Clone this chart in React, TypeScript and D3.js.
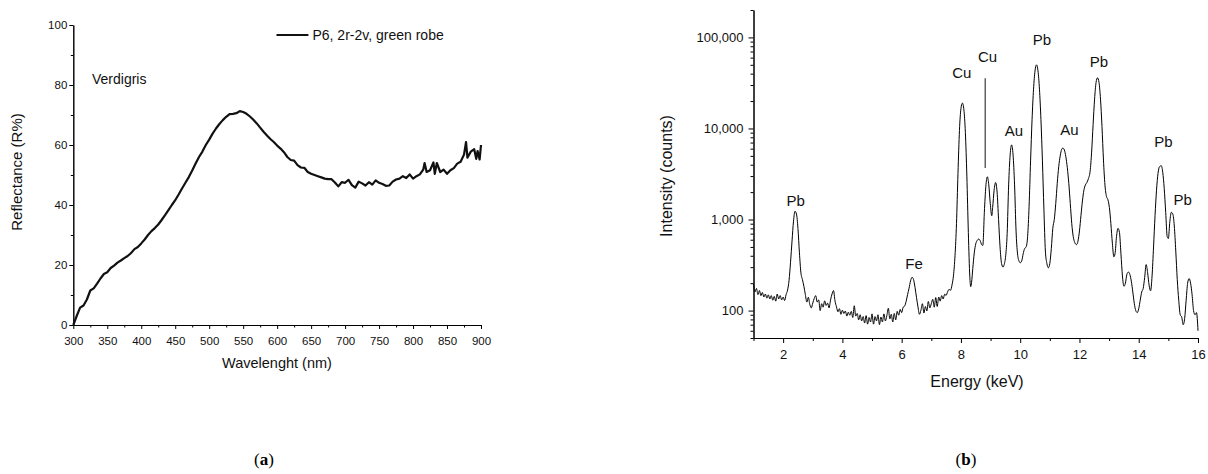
import React, { useEffect, useRef } from 'react';
import * as d3 from 'd3';

// (a) reflectance spectrum
const wavelengthNm = [
  300, 305, 310, 315, 320, 325, 330, 335, 340, 345, 350, 355, 360, 365, 370, 375, 380, 385, 390, 395,
  400, 405, 410, 415, 420, 425, 430, 435, 440, 445, 450, 455, 460, 465, 470, 475, 480, 485, 490, 495,
  500, 505, 510, 515, 520, 525, 530, 535, 540, 545, 550, 555, 560, 565, 570, 575, 580, 585, 590, 595,
  600, 605, 610, 615, 620, 625, 630, 635, 640, 645, 650, 655, 660, 665, 670, 675, 680, 685, 690, 695,
  700, 705, 710, 715, 720, 725, 730, 735, 740, 745, 750, 755, 760, 765, 770, 775, 780, 785, 790, 795,
  800, 805, 810, 815, 817, 820, 825, 830, 832, 835, 840, 845, 850, 855, 860, 865, 870, 875, 878, 880,
  885, 890, 893, 895, 898, 900,
];
const reflectance = [
  0, 3.0, 5.8, 6.5, 8.5, 11.5, 12.2, 13.8, 15.5, 17.0, 17.6, 19.0, 19.8, 20.8, 21.5, 22.3, 23.0, 24.0, 25.3, 26.0,
  27.2, 28.5, 30.0, 31.3, 32.3, 33.5, 35.0, 36.6, 38.3, 40.0, 41.6, 43.5, 45.5, 47.4, 49.3, 51.5, 53.8, 56.0, 57.8, 60.0,
  61.8, 63.8, 65.5, 67.0, 68.3, 69.4, 70.3, 70.4, 70.6, 71.3, 71.0, 70.4, 69.5, 68.4, 67.2, 65.8, 64.4, 63.2, 62.0, 61.0,
  59.8, 58.8, 57.6, 56.0, 55.0, 54.8, 53.3, 52.5, 52.4, 51.0, 50.4, 50.0, 49.6, 49.2, 48.8, 48.6, 48.6, 47.5, 46.2, 47.6,
  47.4, 48.4, 46.6, 45.8, 47.8, 47.2, 46.5, 47.6, 46.8, 48.2, 47.4, 47.0, 46.4, 46.5, 47.8, 48.5, 48.8, 49.6, 49.0, 50.2,
  48.8, 49.6, 50.2, 51.8, 54.0, 51.0, 51.6, 54.2, 50.4, 54.0, 51.0, 51.8, 50.4, 51.6, 52.3, 53.8, 54.4, 56.8, 61.0, 55.8,
  57.8, 58.6, 55.4, 58.0, 55.2, 60.0,
];
const reflTicksX = [300, 350, 400, 450, 500, 550, 600, 650, 700, 750, 800, 850, 900];
const reflTicksY = [0, 20, 40, 60, 80, 100];

// (b) XRF spectrum: [energy keV, counts]
const spectrum: [number, number][] = [
  [1.0, 195], [1.05, 160], [1.1, 175], [1.15, 150], [1.2, 166], [1.25, 146], [1.3, 158], [1.35, 141], [1.4, 152], [1.45, 137],
  [1.5, 149], [1.55, 134], [1.6, 146], [1.65, 130], [1.7, 143], [1.75, 127], [1.8, 152], [1.85, 134], [1.9, 146], [1.95, 131],
  [2.0, 141], [2.05, 129], [2.1, 150], [2.15, 168], [2.2, 215], [2.25, 340], [2.3, 580], [2.35, 960], [2.4, 1230], [2.45, 1150],
  [2.5, 800], [2.55, 430], [2.6, 260], [2.65, 220], [2.7, 185], [2.75, 150], [2.8, 124], [2.85, 140], [2.9, 117], [2.95, 107],
  [3.0, 121], [3.05, 136], [3.1, 146], [3.15, 124], [3.2, 131], [3.25, 100], [3.3, 119], [3.35, 109], [3.4, 128], [3.45, 114],
  [3.5, 121], [3.55, 107], [3.6, 131], [3.65, 152], [3.7, 166], [3.75, 128], [3.8, 110], [3.85, 97], [3.9, 105], [3.95, 91],
  [4.0, 101], [4.05, 93], [4.1, 99], [4.15, 87], [4.2, 96], [4.25, 89], [4.3, 98], [4.35, 84], [4.4, 113], [4.45, 87],
  [4.5, 93], [4.55, 79], [4.6, 90], [4.65, 77], [4.7, 86], [4.75, 73], [4.8, 88], [4.85, 71], [4.9, 84], [4.95, 75],
  [5.0, 92], [5.05, 71], [5.1, 86], [5.15, 77], [5.2, 90], [5.25, 70], [5.3, 85], [5.35, 75], [5.4, 92], [5.45, 77],
  [5.5, 88], [5.55, 106], [5.6, 81], [5.65, 91], [5.7, 75], [5.75, 93], [5.8, 79], [5.85, 98], [5.9, 89], [5.95, 103],
  [6.0, 95], [6.05, 109], [6.1, 112], [6.15, 126], [6.2, 150], [6.25, 176], [6.3, 212], [6.35, 232], [6.4, 220], [6.45, 180],
  [6.5, 140], [6.55, 110], [6.6, 91], [6.65, 101], [6.7, 119], [6.75, 94], [6.8, 111], [6.85, 99], [6.9, 126], [6.95, 107],
  [7.0, 119], [7.05, 133], [7.1, 109], [7.15, 139], [7.2, 111], [7.25, 141], [7.3, 127], [7.35, 146], [7.4, 134], [7.45, 151],
  [7.5, 147], [7.55, 161], [7.6, 171], [7.65, 167], [7.7, 192], [7.75, 245], [7.8, 400], [7.85, 900], [7.9, 3200], [7.95, 9500],
  [8.0, 16500], [8.05, 19000], [8.1, 16000], [8.15, 9000], [8.2, 3000], [8.25, 720], [8.3, 235], [8.33, 183], [8.36, 205], [8.4, 290],
  [8.45, 430], [8.5, 540], [8.55, 590], [8.6, 610], [8.65, 585], [8.7, 530], [8.74, 520], [8.79, 1200], [8.84, 2300], [8.89, 2950],
  [8.94, 2400], [8.99, 1500], [9.04, 1100], [9.07, 1350], [9.12, 2100], [9.17, 2550], [9.22, 2000], [9.27, 1000], [9.32, 500], [9.37, 330],
  [9.42, 300], [9.46, 320], [9.51, 400], [9.56, 700], [9.61, 2400], [9.66, 5100], [9.71, 6600], [9.76, 5100], [9.81, 2400], [9.86, 750],
  [9.91, 420], [9.96, 350], [10.0, 335], [10.05, 350], [10.1, 420], [10.15, 480], [10.2, 500], [10.25, 650], [10.3, 1400], [10.35, 4400],
  [10.4, 12500], [10.45, 27000], [10.5, 43000], [10.55, 50000], [10.6, 43000], [10.65, 27000], [10.7, 12500], [10.75, 4400], [10.8, 1300], [10.85, 450],
  [10.9, 330], [10.95, 295], [11.0, 330], [11.05, 480], [11.1, 800], [11.15, 1000], [11.2, 1500], [11.25, 2500], [11.3, 3800], [11.35, 5000],
  [11.4, 5900], [11.44, 6100], [11.49, 5800], [11.54, 4900], [11.59, 3700], [11.64, 2500], [11.69, 1500], [11.74, 900], [11.79, 650], [11.84, 560],
  [11.9, 530], [11.95, 580], [12.0, 750], [12.05, 1100], [12.1, 1600], [12.15, 2100], [12.2, 2400], [12.25, 2550], [12.3, 2800], [12.36, 3400],
  [12.41, 5500], [12.46, 11000], [12.51, 21000], [12.56, 32000], [12.61, 36000], [12.66, 32000], [12.71, 21000], [12.76, 10500], [12.81, 4500], [12.86, 2400],
  [12.91, 1800], [12.96, 1650], [13.01, 1350], [13.06, 900], [13.11, 550], [13.16, 390], [13.2, 420], [13.25, 650], [13.3, 800], [13.35, 720],
  [13.4, 420], [13.45, 240], [13.5, 185], [13.55, 200], [13.6, 250], [13.65, 265], [13.7, 250], [13.75, 210], [13.8, 160], [13.85, 120],
  [13.9, 100], [13.95, 95], [14.0, 105], [14.05, 130], [14.1, 160], [14.15, 175], [14.2, 230], [14.25, 320], [14.3, 260], [14.35, 190],
  [14.4, 165], [14.45, 240], [14.5, 500], [14.55, 1100], [14.6, 2100], [14.65, 3200], [14.7, 3800], [14.76, 3900], [14.81, 3300], [14.86, 2200],
  [14.91, 1200], [14.96, 650], [15.0, 620], [15.05, 950], [15.1, 1200], [15.15, 1150], [15.2, 850], [15.25, 450], [15.3, 220], [15.35, 130],
  [15.4, 90], [15.45, 85], [15.5, 70], [15.55, 82], [15.6, 130], [15.65, 200], [15.7, 225], [15.75, 200], [15.8, 150], [15.85, 100],
  [15.9, 90], [15.95, 95], [16.0, 60],
];
const energyTicks = [2, 4, 6, 8, 10, 12, 14, 16];
const countTicks = [100, 1000, 10000, 100000];

// element labels, anchored in data units (energy, counts)
const peakLabels = [
  { text: 'Pb', e: 2.42, c: 1610 },
  { text: 'Fe', e: 6.42, c: 327 },
  { text: 'Cu', e: 8.03, c: 41100 },
  { text: 'Cu', e: 8.9, c: 62100 },
  { text: 'Au', e: 9.79, c: 9440 },
  { text: 'Pb', e: 10.73, c: 94600 },
  { text: 'Au', e: 11.66, c: 9610 },
  { text: 'Pb', e: 12.66, c: 53800 },
  { text: 'Pb', e: 14.83, c: 7150 },
  { text: 'Pb', e: 15.48, c: 1640 },
];
const cuMarker = { e: 8.82, top: 35600, bottom: 3680 };

const SANS = '"Liberation Sans", Arial, Helvetica, sans-serif';

export default function App() {
  const svgRef = useRef<SVGSVGElement | null>(null);

  useEffect(() => {
    if (!svgRef.current) return;
    const svg = d3.select(svgRef.current);
    svg.selectAll('*').remove();

    const styleAxis = (g: any, size: number) => {
      g.select('.domain').attr('stroke', '#000').attr('stroke-width', 1);
      g.selectAll('.tick line').attr('stroke', '#000').attr('stroke-width', 1);
      g.selectAll('text').attr('fill', '#111').style('font-size', `${size}px`).style('font-family', SANS);
    };

    // ---------- (a) ----------
    const xA = d3.scaleLinear().domain([300, 900]).range([73.3, 481]);
    const yA = d3.scaleLinear().domain([0, 100]).range([325, 25]);
    const gA = svg.append('g');

    gA.append('g')
      .attr('transform', `translate(0,${yA(0)})`)
      .call(d3.axisBottom(xA).tickValues(d3.range(325, 900, 50)).tickSize(2.5).tickSizeOuter(0).tickFormat(() => ''))
      .call((g: any) => styleAxis(g, 11));
    gA.append('g')
      .attr('transform', `translate(0,${yA(0)})`)
      .call(d3.axisBottom(xA).tickValues(reflTicksX).tickSize(4).tickSizeOuter(0).tickPadding(7.5).tickFormat(d3.format('d')))
      .call((g: any) => styleAxis(g, 11.5));
    gA.append('g')
      .attr('transform', `translate(${xA(300)},0)`)
      .call(d3.axisLeft(yA).tickValues(d3.range(10, 100, 20)).tickSize(2.5).tickSizeOuter(0).tickFormat(() => ''))
      .call((g: any) => styleAxis(g, 11));
    gA.append('g')
      .attr('transform', `translate(${xA(300)},0)`)
      .call(d3.axisLeft(yA).tickValues(reflTicksY).tickSize(4).tickSizeOuter(0).tickPadding(2).tickFormat(d3.format('d')))
      .call((g: any) => styleAxis(g, 11.5));

    const reflLine = d3
      .line<number>()
      .x((_, i) => xA(wavelengthNm[i]))
      .y((d) => yA(d))
      .curve(d3.curveLinear);
    gA.append('path')
      .datum(reflectance)
      .attr('fill', 'none')
      .attr('stroke', '#111')
      .attr('stroke-width', 2.2)
      .attr('stroke-linejoin', 'round')
      .attr('d', reflLine);

    // legend + note
    gA.append('line')
      .attr('x1', xA(599)).attr('x2', xA(646))
      .attr('y1', yA(96.7)).attr('y2', yA(96.7))
      .attr('stroke', '#111').attr('stroke-width', 2);
    gA.append('text')
      .attr('x', xA(652)).attr('y', yA(96.7)).attr('dy', '0.35em')
      .style('font-family', SANS).style('font-size', '14px').attr('fill', '#111')
      .text('P6, 2r-2v, green robe');
    gA.append('text')
      .attr('x', xA(327.5)).attr('y', yA(82)).attr('dy', '0.35em')
      .style('font-family', SANS).style('font-size', '14px').attr('fill', '#111')
      .text('Verdigris');

    gA.append('text')
      .attr('x', 277).attr('y', 363).attr('dy', '0.35em').attr('text-anchor', 'middle')
      .style('font-family', SANS).style('font-size', '14.5px').attr('fill', '#111')
      .text('Wavelenght (nm)');
    gA.append('text')
      .attr('transform', 'translate(17,172) rotate(-90)')
      .attr('dy', '0.35em').attr('text-anchor', 'middle')
      .style('font-family', SANS).style('font-size', '15px').attr('fill', '#111')
      .text('Reflectance (R%)');

    // ---------- (b) ----------
    const xB = d3.scaleLinear().domain([1, 16]).range([753.5, 1198]);
    const yB = d3.scaleLog().domain([50, 200000]).range([338, 10]);
    const gB = svg.append('g');

    const minorCounts = yB.ticks().filter((v) => !countTicks.includes(v));
    gB.append('g')
      .attr('transform', `translate(0,${yB(50)})`)
      .call(d3.axisBottom(xB).tickValues(d3.range(1, 16, 2)).tickSize(3).tickSizeOuter(0).tickFormat(() => ''))
      .call((g: any) => styleAxis(g, 12));
    gB.append('g')
      .attr('transform', `translate(0,${yB(50)})`)
      .call(d3.axisBottom(xB).tickValues(energyTicks).tickSize(5).tickSizeOuter(0).tickPadding(7).tickFormat(d3.format('d')))
      .call((g: any) => styleAxis(g, 13));
    gB.append('g')
      .attr('transform', `translate(${xB(1)},0)`)
      .call(d3.axisLeft(yB).tickValues(minorCounts).tickSize(3).tickSizeOuter(0).tickFormat(() => ''))
      .call((g: any) => styleAxis(g, 12));
    gB.append('g')
      .attr('transform', `translate(${xB(1)},0)`)
      .call(d3.axisLeft(yB).tickValues(countTicks).tickSize(5).tickSizeOuter(0).tickPadding(5).tickFormat(d3.format(',')))
      .call((g: any) => styleAxis(g, 13));

    const specLine = d3
      .line<[number, number]>()
      .x((d) => xB(d[0]))
      .y((d) => yB(d[1]))
      .curve(d3.curveMonotoneX);
    gB.append('path')
      .datum(spectrum)
      .attr('fill', 'none')
      .attr('stroke', '#000')
      .attr('stroke-width', 1)
      .attr('d', specLine);

    gB.append('line')
      .attr('x1', xB(cuMarker.e)).attr('x2', xB(cuMarker.e))
      .attr('y1', yB(cuMarker.top)).attr('y2', yB(cuMarker.bottom))
      .attr('stroke', '#555').attr('stroke-width', 1.4);

    gB.selectAll('.peak')
      .data(peakLabels)
      .enter()
      .append('text')
      .attr('class', 'peak')
      .attr('x', (d) => xB(d.e))
      .attr('y', (d) => yB(d.c))
      .attr('dy', '0.35em')
      .attr('text-anchor', 'middle')
      .style('font-family', SANS)
      .style('font-size', '15px')
      .attr('fill', '#111')
      .text((d) => d.text);

    gB.append('text')
      .attr('x', 977).attr('y', 381).attr('dy', '0.35em').attr('text-anchor', 'middle')
      .style('font-family', SANS).style('font-size', '16px').attr('fill', '#111')
      .text('Energy (keV)');
    gB.append('text')
      .attr('transform', 'translate(666,176) rotate(-90)')
      .attr('dy', '0.35em').attr('text-anchor', 'middle')
      .style('font-family', SANS).style('font-size', '16px').attr('fill', '#111')
      .text('Intensity (counts)');

    // ---------- captions ----------
    [
      { x: 264, letter: 'a' },
      { x: 966, letter: 'b' },
    ].forEach((c) => {
      const t = svg.append('text')
        .attr('x', c.x).attr('y', 465).attr('text-anchor', 'middle')
        .style('font-family', '"Liberation Serif", "Times New Roman", serif')
        .style('font-size', '17px').attr('fill', '#000');
      t.append('tspan').text('(');
      t.append('tspan').attr('font-weight', 'bold').text(c.letter);
      t.append('tspan').text(')');
    });
  }, []);

  return (
    <svg
      ref={svgRef}
      width={1208}
      height={474}
      style={{ position: 'absolute', left: 0, top: 0, background: '#fff' }}
    />
  );
}
